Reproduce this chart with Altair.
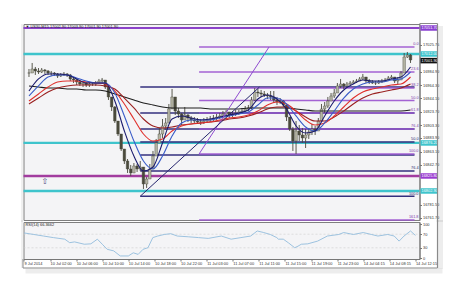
import altair as alt
import pandas as pd

# ---------------- data ----------------
# candles: one candle every 2 bars of M15 (bar index = 2*k)
close = [16983.0, 16989.1, 16986.1, 16984.5, 16987.6, 16986.1, 16983.0, 16983.0, 16981.5, 16978.4,
         16980.0, 16981.5, 16980.0, 16973.9, 16972.3, 16969.3, 16966.2, 16967.7, 16964.7, 16966.2,
         16966.2, 16967.7, 16970.8, 16972.3, 16961.6, 16946.4, 16931.1, 16909.7, 16889.9, 16867.0,
         16848.7, 16836.5, 16830.4, 16841.1, 16836.5, 16839.5, 16813.6, 16821.2, 16836.5, 16856.3,
         16876.2, 16889.9, 16902.1, 16906.7, 16928.1, 16946.4, 16925.0, 16920.4, 16911.3, 16918.9,
         16914.3, 16911.3, 16909.7, 16908.2, 16908.2, 16909.7, 16911.3, 16912.8, 16914.3, 16915.8,
         16917.4, 16920.4, 16923.5, 16918.9, 16920.4, 16922.0, 16923.5, 16925.0, 16928.1, 16929.6,
         16941.8, 16954.0, 16952.5, 16951.0, 16949.4, 16947.9, 16946.4, 16941.8, 16938.7, 16940.3,
         16934.2, 16915.8, 16897.5, 16879.2, 16894.5, 16888.4, 16883.8, 16888.4, 16893.0, 16897.5,
         16894.5, 16909.7, 16928.1, 16932.6, 16940.3, 16947.9, 16952.5, 16963.2, 16966.2, 16963.2,
         16966.2, 16967.7, 16969.3, 16970.8, 16973.9, 16976.9, 16970.8, 16969.3, 16967.7, 16967.7,
         16969.3, 16970.8, 16972.3, 16975.4, 16976.9, 16970.8, 16972.3, 16983.0, 17007.4, 17010.5,
         17002.8]
high = [16989.1, 16998.3, 16992.2, 16990.6, 16990.6, 16989.1, 16987.6, 16986.1, 16984.5, 16983.0,
        16983.0, 16984.5, 16983.0, 16981.5, 16976.9, 16973.9, 16972.3, 16970.8, 16969.3, 16969.3,
        16969.3, 16970.8, 16973.9, 16975.4, 16970.8, 16961.6, 16946.4, 16932.6, 16909.7, 16889.9,
        16867.0, 16851.7, 16842.6, 16845.6, 16844.1, 16848.7, 16836.5, 16824.3, 16844.1, 16864.0,
        16882.3, 16899.1, 16912.8, 16914.3, 16935.7, 16958.6, 16943.3, 16929.6, 16922.0, 16931.1,
        16920.4, 16917.4, 16915.8, 16914.3, 16912.8, 16914.3, 16915.8, 16917.4, 16918.9, 16920.4,
        16922.0, 16925.0, 16926.5, 16923.5, 16925.0, 16926.5, 16926.5, 16929.6, 16932.6, 16934.2,
        16946.4, 16960.1, 16958.6, 16957.1, 16955.5, 16952.5, 16955.5, 16955.5, 16946.4, 16944.8,
        16941.8, 16932.6, 16915.8, 16900.6, 16909.7, 16903.6, 16899.1, 16897.5, 16899.1, 16905.2,
        16902.1, 16914.3, 16935.7, 16938.7, 16946.4, 16952.5, 16958.6, 16967.7, 16973.9, 16967.7,
        16969.3, 16970.8, 16972.3, 16973.9, 16976.9, 16981.5, 16976.9, 16973.9, 16972.3, 16970.8,
        16972.3, 16973.9, 16975.4, 16978.4, 16980.0, 16976.9, 16976.9, 16986.1, 17013.5, 17015.1,
        17012.0]
low = [16976.9, 16983.0, 16980.0, 16981.5, 16983.0, 16981.5, 16980.0, 16978.4, 16978.4, 16975.4,
       16976.9, 16978.4, 16976.9, 16970.8, 16967.7, 16964.7, 16963.2, 16961.6, 16961.6, 16961.6,
       16963.2, 16963.2, 16966.2, 16967.7, 16958.6, 16941.8, 16925.0, 16906.7, 16886.8, 16864.0,
       16844.1, 16830.4, 16825.8, 16830.4, 16831.9, 16833.4, 16806.0, 16807.5, 16824.3, 16842.6,
       16860.9, 16879.2, 16883.8, 16896.0, 16909.7, 16928.1, 16918.9, 16914.3, 16903.6, 16912.8,
       16908.2, 16906.7, 16905.2, 16905.2, 16903.6, 16905.2, 16906.7, 16908.2, 16909.7, 16911.3,
       16912.8, 16915.8, 16917.4, 16914.3, 16915.8, 16917.4, 16918.9, 16920.4, 16923.5, 16925.0,
       16928.1, 16940.3, 16946.4, 16946.4, 16946.4, 16943.3, 16941.8, 16937.2, 16934.2, 16935.7,
       16931.1, 16909.7, 16894.5, 16864.0, 16859.4, 16879.2, 16876.2, 16868.5, 16882.3, 16888.4,
       16888.4, 16894.5, 16912.8, 16922.0, 16929.6, 16940.3, 16944.8, 16952.5, 16960.1, 16958.6,
       16961.6, 16964.7, 16966.2, 16967.7, 16970.8, 16972.3, 16967.7, 16966.2, 16966.2, 16964.7,
       16966.2, 16967.7, 16969.3, 16972.3, 16973.9, 16967.7, 16966.2, 16973.9, 16992.2, 17005.9,
       16998.3]

# moving averages, one reading every 6 bars
ma_navy = [16955.5, 16973.9, 16981.5, 16981.5, 16980.0, 16973.9, 16967.7, 16967.7, 16967.7, 16940.3,
           16894.5, 16856.3, 16833.4, 16839.5, 16876.2, 16912.8, 16917.4, 16914.3, 16911.3, 16912.8,
           16915.8, 16918.9, 16922.0, 16926.5, 16943.3, 16949.4, 16943.3, 16928.1, 16902.1, 16891.4,
           16894.5, 16917.4, 16940.3, 16957.1, 16966.2, 16972.3, 16970.8, 16970.8, 16973.9, 16976.9,
           16992.2]
ma_blue = [16947.9, 16963.2, 16976.9, 16980.0, 16980.0, 16975.4, 16970.8, 16967.7, 16967.7, 16952.5,
           16917.4, 16879.2, 16848.7, 16836.5, 16856.3, 16886.8, 16906.7, 16911.3, 16911.3, 16911.3,
           16914.3, 16917.4, 16920.4, 16923.5, 16934.2, 16944.8, 16944.8, 16935.7, 16917.4, 16900.6,
           16894.5, 16906.7, 16925.0, 16944.8, 16958.6, 16966.2, 16969.3, 16969.3, 16972.3, 16973.9,
           16984.5]
ma_red = [16940.3, 16951.0, 16961.6, 16969.3, 16970.8, 16970.8, 16969.3, 16967.7, 16966.2, 16955.5,
          16935.7, 16912.8, 16889.9, 16879.2, 16882.3, 16894.5, 16902.1, 16905.2, 16906.7, 16908.2,
          16911.3, 16914.3, 16915.8, 16918.9, 16925.0, 16934.2, 16938.7, 16935.7, 16925.0, 16911.3,
          16903.6, 16906.7, 16917.4, 16931.1, 16944.8, 16954.0, 16958.6, 16961.6, 16964.7, 16966.2,
          16976.9]
ma_darkred = [16935.7, 16944.8, 16954.0, 16960.1, 16963.2, 16964.7, 16964.7, 16964.7, 16963.2, 16958.6,
              16944.8, 16929.6, 16912.8, 16902.1, 16899.1, 16900.6, 16903.6, 16905.2, 16906.7, 16908.2,
              16909.7, 16912.8, 16914.3, 16917.4, 16922.0, 16928.1, 16931.1, 16931.1, 16925.0, 16915.8,
              16909.7, 16909.7, 16915.8, 16925.0, 16935.7, 16944.8, 16951.0, 16954.0, 16957.1, 16960.1,
              16966.2]
ma_black = [16963.2, 16961.6, 16960.1, 16960.1, 16958.6, 16958.6, 16957.1, 16957.1, 16955.5, 16951.0,
            16946.4, 16941.8, 16937.2, 16934.2, 16931.1, 16929.6, 16929.6, 16929.6, 16929.6, 16928.1,
            16928.1, 16928.1, 16928.1, 16929.6, 16929.6, 16929.6, 16929.6, 16929.6, 16928.1, 16926.5,
            16925.0, 16925.0, 16925.0, 16925.0, 16925.0, 16925.0, 16925.0, 16925.0, 16925.0, 16925.0,
            16926.5]

rsi_bar = [0, 6, 12, 18, 25, 28, 31, 37, 41, 45, 48, 51, 55, 59, 64, 67, 70, 73, 76, 79,
           82, 86, 90, 94, 101, 107, 113, 121, 127, 133, 139, 143, 147, 151, 155, 156, 159, 162, 166, 168,
           170, 174, 180, 186, 193, 196, 202, 208, 213, 217, 223, 227, 230, 233, 237, 240]
rsi_val = [73.8, 69.2, 64.6, 60.0, 55.4, 45.1, 47.4, 40.5, 41.7, 55.4, 40.5, 25.6, 21.0, 6.1, 6.1, 15.3, 10.7, 25.6, 30.2, 60.0,
           64.6, 69.2, 71.5, 64.6, 62.3, 60.0, 57.7, 64.6, 55.4, 60.0, 64.6, 79.5, 74.9, 69.2, 60.0, 55.4, 55.4, 45.1, 30.2, 34.8,
           40.5, 41.7, 49.7, 64.6, 69.2, 74.9, 69.2, 74.9, 69.2, 64.6, 69.2, 64.6, 49.7, 64.6, 79.5, 66.4]

time_bars = [0, 16, 32, 48, 64, 80, 96, 112, 128, 144, 160, 176, 192, 208, 224, 240]
time_labels = ["9 Jul 2014", "10 Jul 02:00", "10 Jul 06:00", "10 Jul 10:00", "10 Jul 14:00",
               "10 Jul 18:00", "10 Jul 22:00", "11 Jul 03:00", "11 Jul 07:00", "11 Jul 11:00",
               "11 Jul 15:00", "11 Jul 19:00", "11 Jul 23:00", "14 Jul 04:15", "14 Jul 08:15",
               "14 Jul 12:15"]

price_ticks = [17025.75, 16984.90, 16964.30, 16944.10, 16923.70, 16903.30, 16883.90,
               16863.10, 16842.70, 16781.50, 16761.70]
rsi_ticks = [0, 30, 70, 100]

# Fibonacci set A (purple) and set B (navy)
fibA_price = [17022.7, 16984.5, 16960.1, 16941.0, 16922.0, 16897.5, 16859.4, 16758.6]
fibA_label = ["0.0", "23.6", "38.2", "50.0", "61.8", "76.4", "100.0", "161.8"]
fibA_start = 107
fibB_price = [16961.6, 16922.0, 16897.5, 16877.7, 16857.9, 16833.4, 16794.9]
fibB_label = ["", "", "", "50.0", "", "76.4", "100.0"]
fibB_start = 70

# full-width horizontal levels
level_price = [17051.7, 17012.0, 16876.2, 16825.8, 16802.9]
level_kind = ["purple", "cyan", "cyan", "magenta", "cyan"]

# price boxes on the right axis
box_price = [17051.70, 17012.00, 17001.90, 16876.20, 16825.80, 16802.90]
box_kind = ["purple", "cyan", "bid", "cyan", "magenta", "cyan"]

# trend lines of the two Fibonacci tools
trendA_bar = [107, 151]
trendA_price = [16859.4, 17022.7]
trendB_bar = [70, 145]
trendB_price = [16794.9, 16961.6]

arrow_bar = [10]
arrow_price = [16816.6]

title_text = "\u25bc US30,M15  17002.90 17003.90 17001.90 17001.90"
rsi_title = "RSI(14) 66.3662"

# ---------------- build ----------------
W, H, HR = 396, 196, 37
FONT = "Liberation Sans"
FS = 3.9
xs = alt.Scale(domain=[-0.3, 242.5], nice=False, zero=False)
ys = alt.Scale(domain=[16758.6, 17057.8], nice=False, zero=False)
rs = alt.Scale(domain=[-2.9, 105.9], nice=False, zero=False)

price_axis = alt.Axis(orient="right", values=price_ticks, format=".2f", labelFontSize=FS,
                      labelFont=FONT, labelColor="#333333", tickSize=2, tickColor="#777777",
                      domainColor="#777777", labelPadding=1, grid=False, title=None)
rsi_axis = alt.Axis(orient="right", values=rsi_ticks, format="d", labelFontSize=FS,
                    labelFont=FONT, labelColor="#333333", tickSize=2, tickColor="#777777",
                    domainColor="#777777", labelPadding=1, grid=False, title=None)
time_axis = alt.Axis(orient="bottom", values=time_bars, labels=False, tickSize=2,
                     tickColor="#777777", domainColor="#777777", grid=False, title=None)


def X(f):
    return alt.X(f, type="quantitative", scale=xs, axis=None)


def Y(f):
    return alt.Y(f, type="quantitative", scale=ys, axis=price_axis)


cd = pd.DataFrame({"bar": [2 * k for k in range(len(close))], "close": close,
                   "high": high, "low": low})
cd["open"] = cd["close"].shift(1).fillna(cd["close"])
cd["hi"] = cd[["high", "open", "close"]].max(axis=1)
cd["lo"] = cd[["low", "open", "close"]].min(axis=1)
cd["dir"] = ["up" if c >= o else "down" for c, o in zip(cd["close"], cd["open"])]

ma_names = ["black", "darkred", "red", "blue", "navy"]
ma_vals = [ma_black, ma_darkred, ma_red, ma_blue, ma_navy]
ma_rows = []
for name, vals in zip(ma_names, ma_vals):
    for j, v in enumerate(vals):
        ma_rows.append({"bar": 6 * j, "ma": v, "series": name})
mad = pd.DataFrame(ma_rows)

fa = pd.DataFrame({"price": fibA_price, "label": fibA_label, "start": fibA_start, "end": 242.5})
fb = pd.DataFrame({"price": fibB_price, "label": fibB_label, "start": fibB_start, "end": 242.5})
lv = pd.DataFrame({"price": level_price, "kind": level_kind})
bx = pd.DataFrame({"price": box_price, "kind": box_kind,
                   "text": [f"{p:.2f}" for p in box_price]})
tr = pd.DataFrame({"bar": trendA_bar + trendB_bar, "price": trendA_price + trendB_price,
                   "tool": ["A", "A", "B", "B"]})

one = pd.DataFrame({"k": [1]})

levels = alt.Chart(lv).mark_rule().encode(
    y=Y("price"), x=alt.value(0), x2=alt.value(W),
    color=alt.Color("kind:N", scale=alt.Scale(domain=["purple", "cyan", "magenta"],
                                              range=["#8b42c9", "#3ec4cc", "#a23c9f"]), legend=None),
    strokeWidth=alt.StrokeWidth("kind:N", scale=alt.Scale(domain=["purple", "cyan", "magenta"],
                                                          range=[2, 2.6, 1.6]), legend=None))

fibB_lines = alt.Chart(fb).mark_rule(color="#34307e", strokeWidth=1.4).encode(
    y=Y("price"), x=X("start"), x2="end")
fibA_lines = alt.Chart(fa).mark_rule(color="#9a52cf", strokeWidth=1.6, opacity=0.9).encode(
    y=Y("price"), x=X("start"), x2="end")
fibA_text = alt.Chart(fa).mark_text(align="right", baseline="bottom", fontSize=3.8, font=FONT,
                                    color="#7a3aa8", dy=-0.6).encode(
    y=Y("price"), x=alt.value(W - 1), text="label")
fibB_text = alt.Chart(fb).mark_text(align="right", baseline="bottom", fontSize=3.8, font=FONT,
                                    color="#2a2a70", dy=-0.6).encode(
    y=Y("price"), x=alt.value(W - 1), text="label")

wicks = alt.Chart(cd).mark_rule(color="#4a4a3c", strokeWidth=0.9).encode(
    x=X("bar"), y=Y("lo"), y2="hi")
bodies = alt.Chart(cd).mark_bar(size=2.6, stroke="#4a4a3c", strokeWidth=0.4).encode(
    x=X("bar"), y=Y("open"), y2="close",
    color=alt.Color("dir:N", scale=alt.Scale(domain=["up", "down"], range=["#b4b4a4", "#4a4a3c"]),
                    legend=None))

mas = alt.Chart(mad).mark_line(strokeWidth=1.1, interpolate="monotone").encode(
    x=X("bar"), y=Y("ma"),
    color=alt.Color("series:N", scale=alt.Scale(domain=ma_names,
                                                range=["#1e1e1e", "#9a2020", "#e0302c", "#3a5cc8", "#1c1c6e"]),
                    legend=None),
    detail="series:N")

trends = alt.Chart(tr).mark_line(strokeWidth=1).encode(
    x=X("bar"), y=Y("price"), detail="tool:N",
    color=alt.Color("tool:N", scale=alt.Scale(domain=["A", "B"], range=["#8e4ad0", "#26266e"]),
                    legend=None))

arrow = alt.Chart(pd.DataFrame({"bar": arrow_bar, "price": arrow_price, "t": ["\u21e7"]})).mark_text(
    fontSize=8, font="DejaVu Sans", color="#4a4a7a").encode(x=X("bar"), y=Y("price"), text="t")

box_scale = alt.Scale(domain=["purple", "cyan", "bid", "magenta"],
                      range=["#8a3fd2", "#3ec4cc", "#111111", "#9a3cd0"])
boxes = alt.Chart(bx).mark_rule(strokeWidth=5.5, strokeCap="butt").encode(
    y=Y("price"), x=alt.value(W + 1), x2=alt.value(W + 18),
    color=alt.Color("kind:N", scale=box_scale, legend=None))
box_text = alt.Chart(bx).mark_text(align="left", baseline="middle", fontSize=FS, font=FONT,
                                   color="white").encode(
    y=Y("price"), x=alt.value(W + 2), text="text")

title = alt.Chart(pd.DataFrame({"t": [title_text]})).mark_text(
    align="left", baseline="middle", fontSize=FS, font=FONT, color="#222222").encode(
    x=alt.value(2), y=alt.value(2.5), text="t")

frame_main = alt.Chart(one).mark_rule(color="#8a8a8a", strokeWidth=1.2).encode(
    x=alt.value(W + 18), y=alt.value(-0.5), y2=alt.value(H + 2))
frame_top = alt.Chart(one).mark_rule(color="#8a8a8a", strokeWidth=1).encode(
    y=alt.value(-0.5), x=alt.value(W), x2=alt.value(W + 18))
shadow_r = alt.Chart(one).mark_rule(color="#000000", strokeWidth=5, opacity=0.07).encode(
    x=alt.value(W + 21), y=alt.value(2), y2=alt.value(H + 2))
shadow_l = alt.Chart(one).mark_rule(color="#000000", strokeWidth=2, opacity=0.06).encode(
    x=alt.value(-1.5), y=alt.value(0), y2=alt.value(H + 2))

main = alt.layer(shadow_r, shadow_l, levels, fibB_lines, fibA_lines, wicks, bodies, mas, trends,
                 fibA_text, fibB_text, arrow, boxes, box_text, title, frame_main, frame_top
                 ).resolve_scale(color="independent", strokeWidth="independent"
                 ).properties(width=W, height=H)

# RSI panel
rd = pd.DataFrame({"bar": rsi_bar, "rsi": rsi_val})
RX = lambda f: alt.X(f, type="quantitative", scale=xs, axis=time_axis)
RY = lambda f: alt.Y(f, type="quantitative", scale=rs, axis=rsi_axis)

rsi_levels = alt.Chart(pd.DataFrame({"lvl": [70, 30]})).mark_rule(
    color="#cccccc", strokeWidth=0.6, strokeDash=[2, 2]).encode(
    y=RY("lvl"), x=alt.value(0), x2=alt.value(W))
rsi_line = alt.Chart(rd).mark_line(color="#92bcdc", strokeWidth=0.9).encode(
    x=RX("bar"), y=RY("rsi"))
rsi_text = alt.Chart(pd.DataFrame({"t": [rsi_title]})).mark_text(
    align="left", baseline="middle", fontSize=FS, font=FONT, color="#222222").encode(
    x=alt.value(2), y=alt.value(3), text="t")
tl = alt.Chart(pd.DataFrame({"bar": time_bars, "label": time_labels})).mark_text(
    align="left", baseline="top", fontSize=FS, font=FONT, color="#333333", dx=0.5).encode(
    x=RX("bar"), y=alt.value(HR + 2.5), text="label")
frame_r2 = alt.Chart(one).mark_rule(color="#8a8a8a", strokeWidth=1.2).encode(
    x=alt.value(W + 18), y=alt.value(-2), y2=alt.value(HR + 9))
frame_b = alt.Chart(one).mark_rule(color="#8a8a8a", strokeWidth=1.2).encode(
    y=alt.value(HR + 9), x=alt.value(-0.5), x2=alt.value(W + 18))
frame_l = alt.Chart(one).mark_rule(color="#8a8a8a", strokeWidth=1).encode(
    x=alt.value(-0.5), y=alt.value(HR), y2=alt.value(HR + 9))
shadow_b = alt.Chart(one).mark_rule(color="#000000", strokeWidth=5, opacity=0.07).encode(
    y=alt.value(HR + 12), x=alt.value(2), x2=alt.value(W + 23))
shadow_r2 = alt.Chart(one).mark_rule(color="#000000", strokeWidth=5, opacity=0.07).encode(
    x=alt.value(W + 21), y=alt.value(-2), y2=alt.value(HR + 10))
shadow_l2 = alt.Chart(one).mark_rule(color="#000000", strokeWidth=2, opacity=0.06).encode(
    x=alt.value(-1.5), y=alt.value(-2), y2=alt.value(HR + 9))

rsi = alt.layer(shadow_b, shadow_r2, shadow_l2, rsi_levels, rsi_line, rsi_text, tl,
                frame_r2, frame_b, frame_l).properties(width=W, height=HR)

chart = alt.vconcat(main, rsi, spacing=2, bounds="flush").properties(
    padding={"left": 20.5, "top": 22, "right": 4, "bottom": 4},
    background="white"
).configure_view(fill="#f4f4f6", stroke="#7f7f7f", strokeWidth=1)

chart.save("out.html", embed_options={"renderer": "svg", "actions": False})
